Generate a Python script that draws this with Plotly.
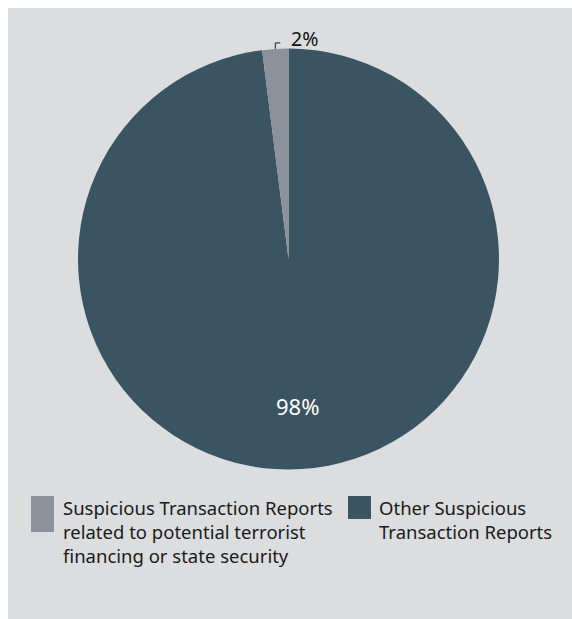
import math
import plotly.graph_objects as go

# Share of suspicious transaction reports (legend order)
labels = [
    "Suspicious Transaction Reports<br>related to potential terrorist<br>financing or state security",
    "Other Suspicious<br>Transaction Reports",
]
values = [2, 98]
colors = ["#8b929c", "#3a5462"]

W, H = 572, 619
BG = "#dcdddf"
FONT = "Noto Sans"


def px(x):
    return x / W


def py(y):
    return 1 - y / H


# pie geometry (pixels)
left, right, top, bottom = 78, 499, 48, 470
cx, cy = (left + right) / 2, (top + bottom) / 2
r = (right - left) / 2

total = sum(values)
pct = [round(100 * v / total) for v in values]

# drawn clockwise from 12 o'clock: the large slice first, so the small one
# ends just left of the top
fig = go.Figure(
    go.Pie(
        labels=labels[::-1],
        values=values[::-1],
        marker=dict(colors=colors[::-1], line=dict(width=0)),
        direction="clockwise",
        rotation=0,
        sort=False,
        textinfo="none",
        hoverinfo="label+percent",
        domain=dict(x=[px(left), px(right)], y=[py(bottom), py(top)]),
        showlegend=False,
    )
)

shapes = [
    dict(type="rect", xref="paper", yref="paper",
         x0=px(8), x1=1, y0=0, y1=py(8),
         fillcolor=BG, line=dict(width=0), layer="below"),
]
annotations = []

# leader for the small slice: from the rim at its mid-angle up, then right
mid = math.radians(values[0] / total * 360 / 2)
lx = cx - r * math.sin(mid)
ly = cy - r * math.cos(mid)
shapes.append(dict(
    type="path", xref="paper", yref="paper",
    path=f"M {px(lx)} {py(ly)} L {px(lx)} {py(ly - 6)} L {px(lx + 5)} {py(ly - 6)}",
    line=dict(color="#1a1a1a", width=1),
))
annotations.append(dict(
    text=f"{pct[0]}%", xref="paper", yref="paper",
    x=px(lx + 14), y=py(ly - 10), xanchor="left", yanchor="middle",
    showarrow=False, font=dict(family=FONT, size=19.5, color="#111111"),
))

# label for the large slice, placed along its bisector
mid2 = math.radians((values[0] + values[1] / 2) / total * 360)
tx = cx - 0.7 * r * math.sin(mid2)
ty = cy - 0.7 * r * math.cos(mid2)
annotations.append(dict(
    text=f"{pct[1]}%", xref="paper", yref="paper",
    x=px(tx), y=py(ty), xanchor="center", yanchor="middle",
    showarrow=False, font=dict(family=FONT, size=22, color="#ffffff"),
))

# legend: swatch + wrapped label for each category
legend_items = [
    dict(sx=31, sw=23, sh=36, tx=63),
    dict(sx=348, sw=23, sh=23, tx=379),
]
leg_top = 496
for lab, col, it in zip(labels, colors, legend_items):
    shapes.append(dict(
        type="rect", xref="paper", yref="paper",
        x0=px(it["sx"]), x1=px(it["sx"] + it["sw"]),
        y0=py(leg_top + it["sh"]), y1=py(leg_top),
        fillcolor=col, line=dict(width=0),
    ))
    annotations.append(dict(
        text=lab, xref="paper", yref="paper",
        x=px(it["tx"] - 2), y=py(leg_top - 3), xanchor="left", yanchor="top",
        align="left", showarrow=False,
        font=dict(family=FONT, size=18.5, color="#1a1a1a"),
    ))

fig.update_layout(
    width=W, height=H,
    margin=dict(l=0, r=0, t=0, b=0),
    paper_bgcolor="#ffffff",
    shapes=shapes,
    annotations=annotations,
)

fig.write_html("out.html")
